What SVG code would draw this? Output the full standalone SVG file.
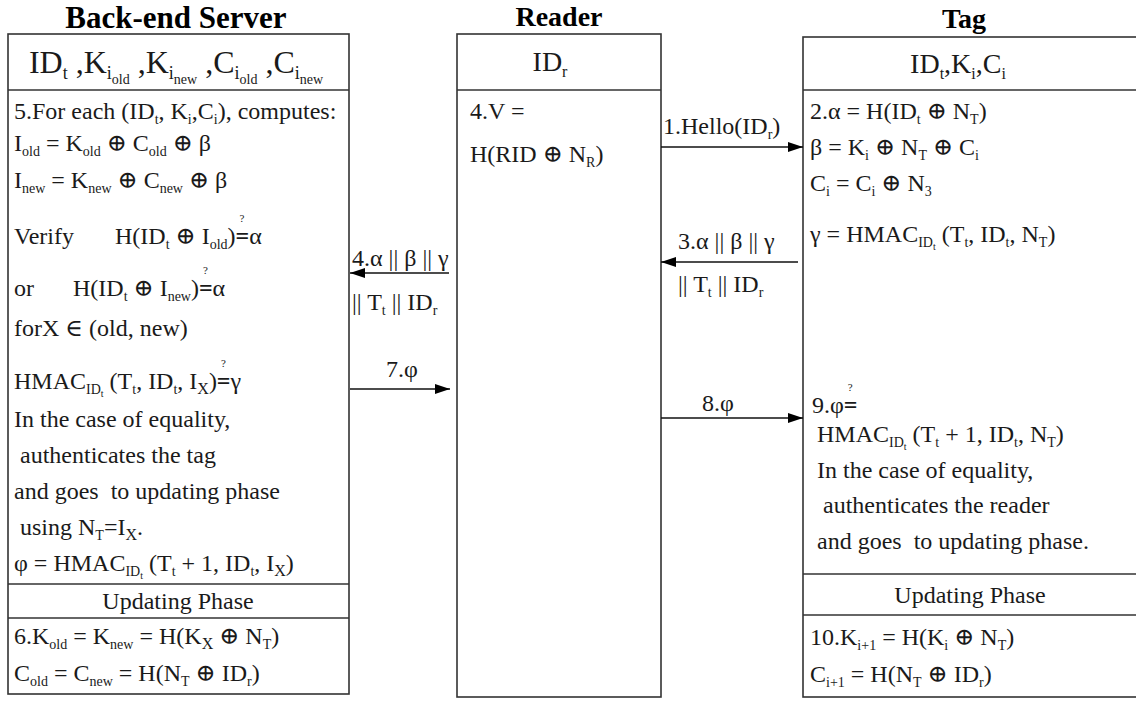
<svg xmlns="http://www.w3.org/2000/svg" width="1136" height="702" viewBox="0 0 1136 702">
<defs>
<style>
.t{font-family:"Liberation Serif","Times New Roman","DejaVu Serif",serif;font-size:24px;fill:#1a1a1a}
.h{font-size:32px}
.h2{font-size:28px}
.ttl{font-family:"Liberation Serif","Times New Roman",serif;font-weight:bold;fill:#000}
.s{font-size:14px}
.s3{font-size:16px}
.ss{font-size:10px}
.s1{font-size:18px}
.s2{font-size:14px}
.q{font-size:11px}
.b{font-weight:bold}
.box{fill:#fff;stroke:#333;stroke-width:1.6}
.ln{stroke:#333;stroke-width:1.6;fill:none}
.conn{stroke:#111;stroke-width:1.3;fill:none;marker-end:url(#ah)}
</style>
<marker id="ah" markerUnits="userSpaceOnUse" markerWidth="16" markerHeight="12" refX="15" refY="5" orient="auto">
<path d="M0,0 L15,5 L0,10 z" fill="#000"/>
</marker>
</defs>
<rect width="1136" height="702" fill="#fff"/>

<g id="server">
<text class="ttl" x="176" y="28" font-size="31" text-anchor="middle">Back-end Server</text>
<rect class="box" x="8" y="34" width="341" height="660"/>
<line class="ln" x1="8" y1="90" x2="349" y2="90"/>
<line class="ln" x1="8" y1="584" x2="349" y2="584"/>
<line class="ln" x1="8" y1="618" x2="349" y2="618"/>
<text class="t h" x="176" y="73" text-anchor="middle">ID<tspan class="s1" dy="6">t</tspan><tspan dy="-6"> ,K</tspan><tspan class="s1" dy="6">i</tspan><tspan class="s2" dy="5">old</tspan><tspan dy="-11"> ,K</tspan><tspan class="s1" dy="6">i</tspan><tspan class="s2" dy="5">new</tspan><tspan dy="-11"> ,C</tspan><tspan class="s1" dy="6">i</tspan><tspan class="s2" dy="5">old</tspan><tspan dy="-11"> ,C</tspan><tspan class="s1" dy="6">i</tspan><tspan class="s2" dy="5">new</tspan></text>
<text class="t" x="14" y="119">5.For each (ID<tspan class="s" dy="5">t</tspan><tspan dy="-5">, K</tspan><tspan class="s" dy="5">i</tspan><tspan dy="-5">,C</tspan><tspan class="s" dy="5">i</tspan><tspan dy="-5">), computes:</tspan></text>
<text class="t" x="14" y="151">I<tspan class="s" dy="5">old</tspan><tspan dy="-5"> = K</tspan><tspan class="s" dy="5">old</tspan><tspan dy="-5"> ⊕ C</tspan><tspan class="s" dy="5">old</tspan><tspan dy="-5"> ⊕ β</tspan></text>
<text class="t" x="14" y="188">I<tspan class="s" dy="5">new</tspan><tspan dy="-5"> = K</tspan><tspan class="s" dy="5">new</tspan><tspan dy="-5"> ⊕ C</tspan><tspan class="s" dy="5">new</tspan><tspan dy="-5"> ⊕ β</tspan></text>
<text class="t" x="14" y="244">Verify<tspan x="115">H(ID</tspan><tspan class="s" dy="5">t</tspan><tspan dy="-5"> ⊕ I</tspan><tspan class="s" dy="5">old</tspan><tspan dy="-5">)</tspan><tspan class="q" dx="4" dy="-22">?</tspan><tspan class="b" dx="-9" dy="22">=</tspan>α</text>
<text class="t" x="14" y="296">or<tspan x="73">H(ID</tspan><tspan class="s" dy="5">t</tspan><tspan dy="-5"> ⊕ I</tspan><tspan class="s" dy="5">new</tspan><tspan dy="-5">)</tspan><tspan class="q" dx="4" dy="-22">?</tspan><tspan class="b" dx="-9" dy="22">=</tspan>α</text>
<text class="t" x="14" y="336">forX ∈ (old, new)</text>
<text class="t" x="14" y="389">HMAC<tspan class="s" dy="5">ID</tspan><tspan class="ss" dy="3">t</tspan><tspan dy="-8"> (T</tspan><tspan class="s" dy="5">t</tspan><tspan dy="-5">, ID</tspan><tspan class="s" dy="5">t</tspan><tspan dy="-5">, I</tspan><tspan class="s3" dy="5">X</tspan><tspan dy="-5">)</tspan><tspan class="q" dx="4" dy="-22">?</tspan><tspan class="b" dx="-9" dy="22">=</tspan>γ</text>
<text class="t" x="14" y="427">In the case of equality,</text>
<text class="t" x="20" y="463">authenticates the tag</text>
<text class="t" x="14" y="499">and goes&#160; to updating phase</text>
<text class="t" x="20" y="535">using N<tspan class="s" dy="5">T</tspan><tspan dy="-5">=I</tspan><tspan class="s3" dy="5">X</tspan><tspan dy="-5">.</tspan></text>
<text class="t" x="14" y="571">φ = HMAC<tspan class="s" dy="5">ID</tspan><tspan class="ss" dy="3">t</tspan><tspan dy="-8"> (T</tspan><tspan class="s" dy="5">t</tspan><tspan dy="-5"> + 1, ID</tspan><tspan class="s" dy="5">t</tspan><tspan dy="-5">, I</tspan><tspan class="s3" dy="5">X</tspan><tspan dy="-5">)</tspan></text>
<text class="t" x="178" y="609" text-anchor="middle">Updating Phase</text>
<text class="t" x="14" y="644">6.K<tspan class="s" dy="5">old</tspan><tspan dy="-5"> = K</tspan><tspan class="s" dy="5">new</tspan><tspan dy="-5"> = H(K</tspan><tspan class="s3" dy="5">X</tspan><tspan dy="-5"> ⊕ N</tspan><tspan class="s" dy="5">T</tspan><tspan dy="-5">)</tspan></text>
<text class="t" x="14" y="681">C<tspan class="s" dy="5">old</tspan><tspan dy="-5"> = C</tspan><tspan class="s" dy="5">new</tspan><tspan dy="-5"> = H(N</tspan><tspan class="s" dy="5">T</tspan><tspan dy="-5"> ⊕ ID</tspan><tspan class="s" dy="5">r</tspan><tspan dy="-5">)</tspan></text>
</g>

<g id="reader">
<text class="ttl" x="559" y="26" font-size="28" text-anchor="middle">Reader</text>
<rect class="box" x="457" y="34" width="204" height="663"/>
<line class="ln" x1="457" y1="90" x2="661" y2="90"/>
<text class="t h2" x="550" y="71" text-anchor="middle">ID<tspan class="s3" dy="6">r</tspan></text>
<text class="t" x="470" y="119">4.V =</text>
<text class="t" x="470" y="162">H(RID ⊕ N<tspan class="s" dy="5">R</tspan><tspan dy="-5">)</tspan></text>
</g>

<g id="tag">
<text class="ttl" x="964" y="28" font-size="28" text-anchor="middle">Tag</text>
<rect class="box" x="803" y="37" width="340" height="660"/>
<line class="ln" x1="803" y1="90" x2="1136" y2="90"/>
<line class="ln" x1="803" y1="574" x2="1136" y2="574"/>
<line class="ln" x1="803" y1="615" x2="1136" y2="615"/>
<text class="t h2" x="958" y="73" text-anchor="middle">ID<tspan class="s3" dy="6">t</tspan><tspan dy="-6">,K</tspan><tspan class="s3" dy="6">i</tspan><tspan dy="-6">,C</tspan><tspan class="s3" dy="6">i</tspan></text>
<text class="t" x="810" y="119">2.α = H(ID<tspan class="s" dy="5">t</tspan><tspan dy="-5"> ⊕ N</tspan><tspan class="s" dy="5">T</tspan><tspan dy="-5">)</tspan></text>
<text class="t" x="810" y="155">β = K<tspan class="s" dy="5">i</tspan><tspan dy="-5"> ⊕ N</tspan><tspan class="s" dy="5">T</tspan><tspan dy="-5"> ⊕ C</tspan><tspan class="s" dy="5">i</tspan></text>
<text class="t" x="810" y="191">C<tspan class="s" dy="5">i</tspan><tspan dy="-5"> = C</tspan><tspan class="s" dy="5">i</tspan><tspan dy="-5"> ⊕ N</tspan><tspan class="s" dy="5">3</tspan></text>
<text class="t" x="810" y="242">γ = HMAC<tspan class="s" dy="5">ID</tspan><tspan class="ss" dy="3">t</tspan><tspan dy="-8"> (T</tspan><tspan class="s" dy="5">t</tspan><tspan dy="-5">, ID</tspan><tspan class="s" dy="5">t</tspan><tspan dy="-5">, N</tspan><tspan class="s" dy="5">T</tspan><tspan dy="-5">)</tspan></text>
<text class="t" x="812" y="413">9.φ<tspan class="q" dx="4" dy="-22">?</tspan><tspan class="b" dx="-9" dy="22">=</tspan></text>
<text class="t" x="817" y="442">HMAC<tspan class="s" dy="5">ID</tspan><tspan class="ss" dy="3">t</tspan><tspan dy="-8"> (T</tspan><tspan class="s" dy="5">t</tspan><tspan dy="-5"> + 1, ID</tspan><tspan class="s" dy="5">t</tspan><tspan dy="-5">, N</tspan><tspan class="s" dy="5">T</tspan><tspan dy="-5">)</tspan></text>
<text class="t" x="817" y="478">In the case of equality,</text>
<text class="t" x="823" y="513">authenticates the reader</text>
<text class="t" x="817" y="549">and goes&#160; to updating phase.</text>
<text class="t" x="970" y="603" text-anchor="middle">Updating Phase</text>
<text class="t" x="810" y="645">10.K<tspan class="s" dy="5">i+1</tspan><tspan dy="-5"> = H(K</tspan><tspan class="s" dy="5">i</tspan><tspan dy="-5"> ⊕ N</tspan><tspan class="s" dy="5">T</tspan><tspan dy="-5">)</tspan></text>
<text class="t" x="810" y="682">C<tspan class="s" dy="5">i+1</tspan><tspan dy="-5"> = H(N</tspan><tspan class="s" dy="5">T</tspan><tspan dy="-5"> ⊕ ID</tspan><tspan class="s" dy="5">r</tspan><tspan dy="-5">)</tspan></text>
</g>

<g id="connectors">
<line class="conn" x1="661" y1="147" x2="803" y2="147"/>
<text class="t" x="663" y="134">1.Hello(ID<tspan class="s" dy="5">r</tspan><tspan dy="-5">)</tspan></text>
<line class="conn" x1="798" y1="262" x2="661" y2="262"/>
<text class="t" x="678" y="249">3.α || β || γ</text>
<text class="t" x="678" y="292">|| T<tspan class="s" dy="5">t</tspan><tspan dy="-5"> || ID</tspan><tspan class="s" dy="5">r</tspan></text>
<line class="conn" x1="449" y1="273" x2="350" y2="273"/>
<text class="t" x="352" y="266">4.α || β || γ</text>
<text class="t" x="352" y="310">|| T<tspan class="s" dy="5">t</tspan><tspan dy="-5"> || ID</tspan><tspan class="s" dy="5">r</tspan></text>
<line class="conn" x1="350" y1="389" x2="450" y2="389"/>
<text class="t" x="386" y="377">7.φ</text>
<line class="conn" x1="661" y1="418" x2="803" y2="418"/>
<text class="t" x="702" y="411">8.φ</text>
</g>
</svg>
